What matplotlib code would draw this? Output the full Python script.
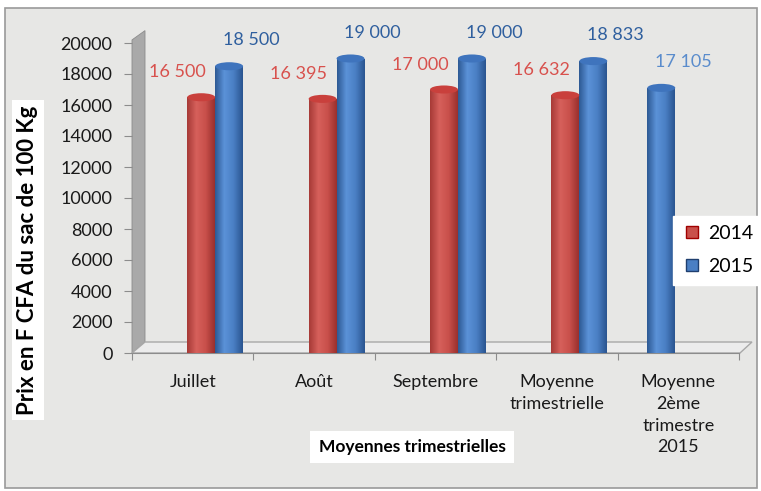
import numpy as np
import matplotlib

matplotlib.use("Agg")
import matplotlib.pyplot as plt
from matplotlib.colors import LinearSegmentedColormap
from matplotlib.lines import Line2D
from matplotlib.patches import Ellipse, Polygon, Rectangle

CATEGORIES = ["Juillet", "Août", "Septembre", "Moyenne\ntrimestrielle",
              "Moyenne\n2ème\ntrimestre\n2015"]
PRIX_2014 = [16500, 16395, 17000, 16632, np.nan]
PRIX_2015 = [18500, 19000, 19000, 18833, 17105]
Y_TICKS = list(range(0, 20001, 2000))

# bar placement inside each category (pseudo 3D layout of the original)
RED_SHIFT = [0.07, 0.07, 0.07, 0.07, 0.0]
BLUE_SHIFT = [0.30, 0.30, 0.30, 0.30, -0.14]
BAR_W = 0.23

W, H = 761, 491
FONT = "Lato"


def px(x, y):
    return x / W, 1 - y / H


def fmt(v):
    return f"{int(v):,}".replace(",", " ")


def cylinder(ax, x, v, cmap, cap):
    bar = ax.bar(x, v, width=BAR_W, color="none", edgecolor="none", zorder=3)[0]
    grad = np.linspace(0, 1, 64).reshape(1, -1)
    im = ax.imshow(grad, cmap=cmap, aspect="auto", zorder=3,
                   extent=(x - BAR_W / 2, x + BAR_W / 2, 0, v))
    im.set_clip_path(bar)
    ax.add_patch(Ellipse((x, v), BAR_W, 520, facecolor=cap, edgecolor="none", zorder=4))


red_cm = LinearSegmentedColormap.from_list("r", ["#a73a36", "#d6605b", "#c9504b", "#9a302d"])
blue_cm = LinearSegmentedColormap.from_list("b", ["#2d5a94", "#5b92d8", "#4a7fc4", "#2a5590"])

fig = plt.figure(figsize=(W / 100, H / 100), dpi=100)
fig.patch.set_facecolor("white")
fig.add_artist(Rectangle(px(5, 488), 752 / W, 480 / H, transform=fig.transFigure,
                         facecolor="#e7e7e5", edgecolor="#9a9a9a", linewidth=1.2, zorder=0))

x0, y0 = px(132, 353)
ax = fig.add_axes([x0, y0, 607 / W, 310 / H])
ax.set_facecolor("none")
ax.set_xlim(-0.5, 4.5)
ax.set_ylim(0, 20000)

# left wall and floor of the 3D box
ax.add_patch(Polygon([(0, 0), (0, 1.01), (13 / 607, 1.04), (13 / 607, 11 / 310)],
                     closed=True, transform=ax.transAxes, clip_on=False,
                     facecolor="#a9a9a9", edgecolor="#8c8c8c", linewidth=0.6, zorder=1))
ax.add_patch(Polygon([(0, 0), (13 / 607, 11 / 310), (620 / 607, 11 / 310), (608 / 607, 0)],
                     closed=True, transform=ax.transAxes, clip_on=False,
                     facecolor="#ececec", edgecolor="#a8a8a8", linewidth=1.0, zorder=1))

xs = np.arange(len(CATEGORIES))
for i in xs:
    if not np.isnan(PRIX_2014[i]):
        xr = i + RED_SHIFT[i]
        cylinder(ax, xr, PRIX_2014[i], red_cm, "#c9403c")
        ax.annotate(fmt(PRIX_2014[i]), (xr, PRIX_2014[i]), xytext=(-24, 25),
                    textcoords="offset pixels", ha="center", va="center",
                    fontsize=13, color="#d8514d", family=FONT)
    xb = i + BLUE_SHIFT[i]
    cylinder(ax, xb, PRIX_2015[i], blue_cm, "#3f74bd")
    ax.annotate(fmt(PRIX_2015[i]), (xb, PRIX_2015[i]), xytext=(22, 26),
                textcoords="offset pixels", ha="center", va="center",
                fontsize=13, family=FONT,
                color="#5a8ccc" if i == 4 else "#2f5f9e")

for s in ["top", "right", "left"]:
    ax.spines[s].set_visible(False)
ax.spines["bottom"].set_color("#8c8c8c")
ax.set_yticks(Y_TICKS)
ax.set_yticklabels([str(t) for t in Y_TICKS], fontsize=13, family=FONT, color="#1a1a1a")
ax.set_xticks(np.arange(-0.5, 5, 1), minor=False)
ax.set_xticklabels([])
ax.set_xticks(xs, minor=True)
ax.set_xticklabels(CATEGORIES, minor=True, fontsize=13, family=FONT,
                   color="#1a1a1a", linespacing=1.45, va="top")
ax.tick_params(axis="x", which="minor", length=0, pad=15)
ax.tick_params(axis="x", which="major", length=5, color="#8c8c8c")
ax.tick_params(axis="y", length=6, color="#8c8c8c", pad=8)

fig.text(*px(28, 260), "Prix en F CFA du sac de 100 Kg", rotation=90, ha="center",
         va="center", fontsize=16, fontweight="bold", family=FONT, color="black",
         bbox=dict(facecolor="white", edgecolor="none", pad=4))
fig.text(*px(412, 447), "Moyennes trimestrielles", ha="center", va="center",
         fontsize=12.5, fontweight="bold", family=FONT, color="black",
         bbox=dict(facecolor="white", edgecolor="none", pad=6))

handles = [Line2D([], [], marker="s", linestyle="none", markersize=8,
                  markerfacecolor="#c9504b", markeredgecolor="#a00000", label="2014"),
           Line2D([], [], marker="s", linestyle="none", markersize=8,
                  markerfacecolor="#4a7fc4", markeredgecolor="#1f3f6f", label="2015")]
fig.legend(handles=handles, loc="center", bbox_to_anchor=px(718, 250),
           frameon=True, fancybox=False, edgecolor="white", facecolor="white",
           framealpha=1, prop={"family": FONT, "size": 14}, handletextpad=0.3,
           labelspacing=0.8, handlelength=1.0, borderpad=0.5)

fig.savefig("out.png", dpi=100)
